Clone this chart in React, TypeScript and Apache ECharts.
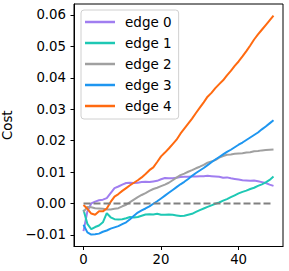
import React, { useEffect, useRef } from "react";
import * as echarts from "echarts";

const seriesNames = ["edge 0", "edge 1", "edge 2", "edge 3", "edge 4"];
const seriesColors = ["#a07ef0", "#1ec8b4", "#a0a0a0", "#1e96f0", "#ff6a10"];

const edge0 = [
  -0.0088, -0.0025, 0.0000, 0.0006, 0.0010, 0.0012, 0.0017, 0.0033, 0.0049, 0.0054,
  0.0060, 0.0065, 0.0066, 0.0065, 0.0066, 0.0068, 0.0069, 0.0068, 0.0070, 0.0072,
  0.0077, 0.0081, 0.0080, 0.0080, 0.0082, 0.0084, 0.0085, 0.0085, 0.0086, 0.0086,
  0.0087, 0.0087, 0.0088, 0.0087, 0.0086, 0.0085, 0.0082, 0.0083, 0.0080, 0.0078,
  0.0076, 0.0074, 0.0073, 0.0072, 0.0073, 0.0071, 0.0068, 0.0065, 0.0060, 0.0056,
];
const edge1 = [
  -0.0020, -0.0065, -0.0082, -0.0075, -0.0070, -0.0060, -0.0031, -0.0044, -0.0050, -0.0051,
  -0.0050, -0.0047, -0.0043, -0.0045, -0.0043, -0.0039, -0.0035, -0.0034, -0.0035, -0.0033,
  -0.0036, -0.0036, -0.0035, -0.0036, -0.0038, -0.0040, -0.0039, -0.0036, -0.0033, -0.0027,
  -0.0021, -0.0016, -0.0011, -0.0006, -0.0001, 0.0003, 0.0009, 0.0014, 0.0020, 0.0026,
  0.0032, 0.0037, 0.0041, 0.0046, 0.0050, 0.0056, 0.0061, 0.0067, 0.0075, 0.0086,
];
const edge2 = [
  -0.0027, -0.0011, -0.0012, -0.0015, -0.0016, -0.0017, -0.0019, -0.0019, -0.0017, -0.0015,
  -0.0009, -0.0004, 0.0004, 0.0012, 0.0020, 0.0027, 0.0033, 0.0040, 0.0046, 0.0050,
  0.0055, 0.0060, 0.0066, 0.0074, 0.0082, 0.0090, 0.0095, 0.0101, 0.0106, 0.0112,
  0.0117, 0.0123, 0.0130, 0.0134, 0.0138, 0.0146, 0.0151, 0.0155, 0.0156, 0.0158,
  0.0159, 0.0160, 0.0162, 0.0163, 0.0166, 0.0167, 0.0169, 0.0170, 0.0171, 0.0172,
];
const edge3 = [
  -0.0068, -0.0092, -0.0099, -0.0098, -0.0096, -0.0090, -0.0086, -0.0080, -0.0076, -0.0072,
  -0.0066, -0.0060, -0.0050, -0.0039, -0.0029, -0.0022, -0.0016, -0.0009, -0.0001, 0.0007,
  0.0016, 0.0025, 0.0034, 0.0043, 0.0052, 0.0061, 0.0069, 0.0078, 0.0088, 0.0097,
  0.0105, 0.0113, 0.0122, 0.0131, 0.0140, 0.0148, 0.0156, 0.0164, 0.0171, 0.0179,
  0.0187, 0.0194, 0.0202, 0.0210, 0.0218, 0.0226, 0.0236, 0.0245, 0.0255, 0.0265,
];
const edge4 = [
  -0.0005, -0.0017, -0.0032, -0.0036, -0.0025, -0.0025, -0.0016, 0.0005, 0.0022, 0.0030,
  0.0040, 0.0049, 0.0058, 0.0066, 0.0074, 0.0083, 0.0094, 0.0106, 0.0115, 0.0132,
  0.0150, 0.0162, 0.0175, 0.0189, 0.0203, 0.0222, 0.0238, 0.0254, 0.0270, 0.0288,
  0.0305, 0.0322, 0.0340, 0.0352, 0.0367, 0.0380, 0.0392, 0.0408, 0.0422, 0.0438,
  0.0452, 0.0468, 0.0485, 0.0503, 0.0522, 0.0538, 0.0553, 0.0568, 0.0583, 0.0598,
];
const allSeries = [edge0, edge1, edge2, edge3, edge4];

const xTicks = [0, 20, 40];
const yTicks = [-0.01, 0.0, 0.01, 0.02, 0.03, 0.04, 0.05, 0.06];
const zeroLine = [[0, 0], [49, 0]];

const FONT = "DejaVu Sans";

export default function App() {
  const ref = useRef<HTMLDivElement>(null);
  useEffect(() => {
    if (!ref.current) return;
    const chart = echarts.init(ref.current, undefined, { renderer: "svg" });
    const lines = allSeries.map((vals, k) => ({
      name: seriesNames[k],
      type: "line",
      data: vals.map((v, i) => [i, v]),
      showSymbol: false,
      symbol: "none",
      lineStyle: { color: seriesColors[k], width: 2 },
      itemStyle: { color: seriesColors[k] },
      z: 2,
    }));
    chart.setOption({
      animation: false,
      grid: {
        left: 74,
        right: 6,
        top: 4,
        bottom: 24.5,
        containLabel: false,
        outerBoundsMode: "none",
        show: true,
        borderColor: "#000",
        borderWidth: 1,
        backgroundColor: "transparent",
      },
      legend: {
        data: seriesNames,
        orient: "vertical",
        left: 81,
        top: 10,
        icon: "rect",
        itemWidth: 30,
        itemHeight: 2.5,
        itemGap: 7,
        padding: [5, 7, 6, 4],
        borderColor: "#d0d0d0",
        borderWidth: 1,
        borderRadius: 3,
        backgroundColor: "rgba(255,255,255,0.8)",
        textStyle: {
          fontFamily: FONT,
          fontSize: 13.5,
          color: "#000",
          lineHeight: 14,
          padding: [0, 0, 0, 5],
        },
      },
      xAxis: {
        type: "value",
        min: -2.45,
        max: 51.45,
        splitLine: { show: false },
        axisLine: { show: true, onZero: false, lineStyle: { color: "#000", width: 1 } },
        axisTick: { show: true, length: 3.5, lineStyle: { color: "#000" }, customValues: xTicks },
        axisLabel: {
          customValues: xTicks,
          fontFamily: FONT,
          fontSize: 13.3,
          color: "#000",
          margin: 6,
          formatter: (v: number) => String(v),
        },
      },
      yAxis: {
        type: "value",
        min: -0.0137,
        max: 0.0635,
        name: "Cost",
        nameLocation: "middle",
        nameRotate: 90,
        nameGap: 58,
        nameTextStyle: { fontFamily: FONT, fontSize: 13.3, color: "#000" },
        splitLine: { show: false },
        axisLine: { show: true, onZero: false, lineStyle: { color: "#000", width: 1 } },
        axisTick: { show: true, length: 3.5, lineStyle: { color: "#000" }, customValues: yTicks },
        axisLabel: {
          customValues: yTicks,
          fontFamily: FONT,
          fontSize: 13.3,
          color: "#000",
          margin: 8,
          formatter: (v: number) => (v < -1e-9 ? "\u2212" : "") + Math.abs(v).toFixed(2),
        },
      },
      series: [
        ...lines,
        {
          name: "zero",
          type: "line",
          data: zeroLine,
          showSymbol: false,
          symbol: "none",
          lineStyle: { color: "#808080", width: 2, type: [7, 3] },
          z: 3,
        },
      ],
    });
    return () => chart.dispose();
  }, []);
  return (
    <div
      ref={ref}
      style={{ position: "absolute", left: 0, top: 0, width: 289, height: 271, background: "#fff" }}
    />
  );
}
